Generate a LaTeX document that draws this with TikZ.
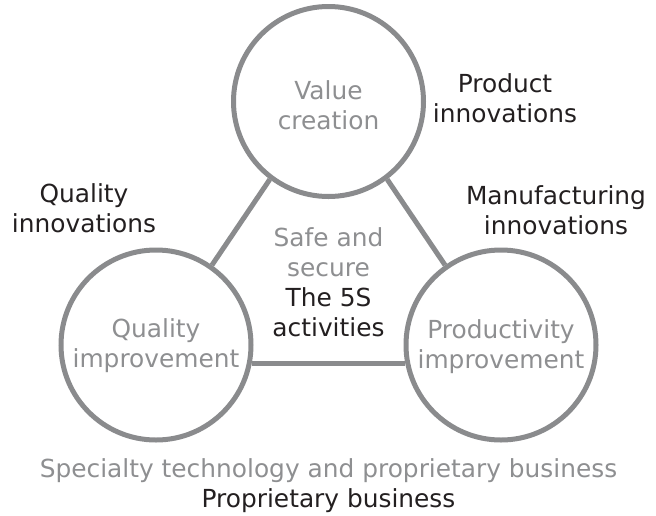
\documentclass[tikz,border=0pt]{standalone}
\usepackage{fontspec}
\setmainfont{DejaVu Sans}
\definecolor{ringgray}{HTML}{8A8B8D}
\definecolor{txtgray}{HTML}{8E8F91}
\definecolor{txtblack}{HTML}{231F20}
\begin{document}
\begin{tikzpicture}[x=1pt,y=-1pt,
  ring/.style={circle,draw=ringgray,line width=5pt,minimum size=190pt,inner sep=0pt},
  link/.style={draw=ringgray,line width=5pt},
  lbl/.style={align=center,inner sep=0pt,anchor=base,font=\fontsize{24.85}{30}\selectfont},
  glbl/.style={lbl,text=txtgray},
  blbl/.style={lbl,text=txtblack}]
\useasboundingbox (0,0) rectangle (656,515);
\node[ring] (top) at (328.5,101.5) {};
\node[ring] (left) at (156,345) {};
\node[ring] (right) at (501,345) {};
\draw[link] (top.233) -- (left.55);
\draw[link] (top.-53) -- (right.125);
\draw[link] (left.-11) -- (right.191);
\node[glbl] (tv) at (328.5,129) {Value\\creation};
\node[glbl] (tq) at (156,367) {Quality\\improvement};
\node[glbl] (tp) at (501,368) {Productivity\\improvement};
\node[glbl] (ts) at (328.5,276) {Safe and\\secure};
\node[blbl] (t5) at (328.5,336) {The 5S\\activities};
\node[blbl] (pi) at (505,122) {Product\\innovations};
\node[blbl] (mi) at (556,234) {Manufacturing\\innovations};
\node[blbl] (qi) at (84,232) {Quality\\innovations};
\node[glbl] (sp) at (328.5,477) {Specialty technology and proprietary business};
\node[blbl] (pb) at (328.5,507) {Proprietary business};
\end{tikzpicture}
\end{document}
